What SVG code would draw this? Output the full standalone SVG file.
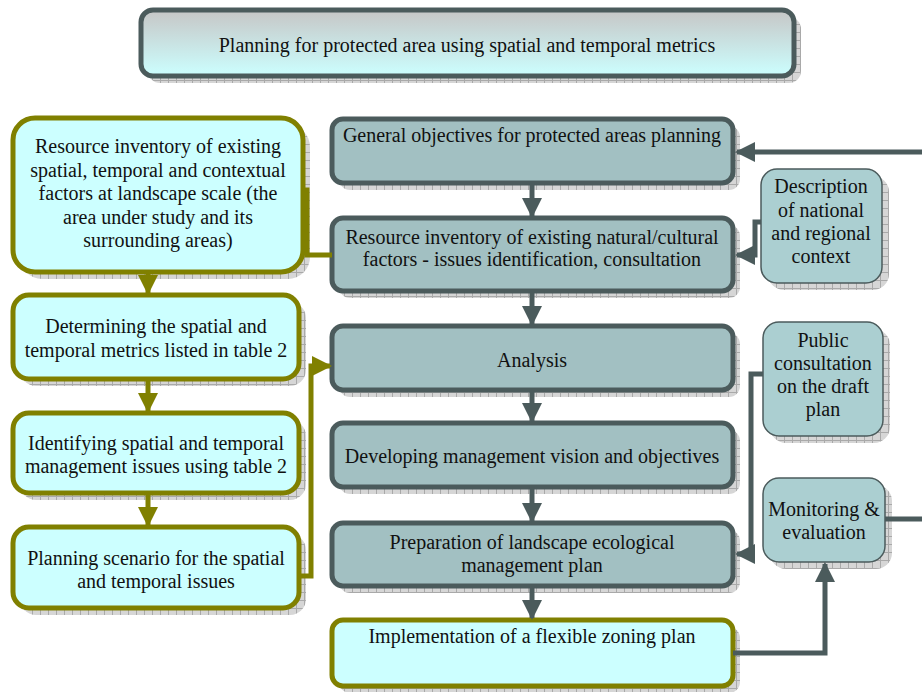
<svg xmlns="http://www.w3.org/2000/svg" width="922" height="692" viewBox="0 0 922 692" font-family="'Liberation Serif', 'Times New Roman', serif" font-size="20">
  <defs>
    <pattern id="grid" width="8" height="8" patternUnits="userSpaceOnUse">
      <rect width="8" height="8" fill="#d6d6d6"/>
      <path d="M0 0.5H8M0.5 0V8" stroke="#a9a9a9" stroke-width="1"/>
    </pattern>
    <linearGradient id="titleFill" x1="0" y1="0" x2="0" y2="1">
      <stop offset="0" stop-color="#c6c6c6"/>
      <stop offset="1" stop-color="#ccffff"/>
    </linearGradient>
    <marker id="arrSlate" viewBox="0 0 10 10" refX="9" refY="5" markerWidth="4" markerHeight="4" orient="auto" markerUnits="strokeWidth">
      <path d="M0 0L10 5L0 10Z" fill="#4b5b5c"/>
    </marker>
    <marker id="arrOlive" viewBox="0 0 10 10" refX="9" refY="5" markerWidth="4" markerHeight="4" orient="auto" markerUnits="strokeWidth">
      <path d="M0 0L10 5L0 10Z" fill="#808000"/>
    </marker>
  </defs>
  <style>
    .t { fill: #111; text-anchor: middle; }
    .shadow { fill: url(#grid); }
    .title { fill: url(#titleFill); stroke: #4b5b5c; stroke-width: 5; }
    .olive { fill: #ccffff; stroke: #808000; stroke-width: 5; }
    .slate { fill: #a2c0c2; stroke: #4b5b5c; stroke-width: 5; }
    .side { fill: #abcfd1; stroke: #4b5b5c; stroke-width: 1.5; }
    .cs { fill: none; stroke: #4b5b5c; stroke-width: 5; }
    .co { fill: none; stroke: #808000; stroke-width: 5; }
  </style>

  <!-- title -->
  <g id="title">
    <rect class="shadow" x="148" y="17" width="653" height="66" rx="12"/>
    <rect class="title" x="141" y="10" width="653" height="66" rx="12"/>
    <text class="t" x="467" y="52">Planning for protected area using spatial and temporal metrics</text>
  </g>

  <!-- left column -->
  <g id="inventory-landscape">
    <rect class="shadow" x="20" y="125" width="290" height="154" rx="22"/>
    <rect class="olive" x="13" y="118" width="290" height="154" rx="22"/>
    <text class="t" x="158" y="153">Resource inventory of existing</text>
    <text class="t" x="158" y="177">spatial, temporal and contextual</text>
    <text class="t" x="158" y="200">factors at landscape scale (the</text>
    <text class="t" x="158" y="224">area under study and its</text>
    <text class="t" x="158" y="247">surrounding areas)</text>
  </g>
  <g id="determining-metrics">
    <rect class="shadow" x="20" y="302" width="286" height="84" rx="16"/>
    <rect class="olive" x="13" y="295" width="286" height="84" rx="16"/>
    <text class="t" x="156" y="333">Determining the spatial and</text>
    <text class="t" x="156" y="357">temporal metrics listed in table 2</text>
  </g>
  <g id="identifying-issues">
    <rect class="shadow" x="20" y="420" width="286" height="80" rx="16"/>
    <rect class="olive" x="13" y="413" width="286" height="80" rx="16"/>
    <text class="t" x="156" y="450">Identifying spatial and temporal</text>
    <text class="t" x="156" y="473">management issues using table 2</text>
  </g>
  <g id="planning-scenario">
    <rect class="shadow" x="20" y="534" width="286" height="81" rx="16"/>
    <rect class="olive" x="13" y="527" width="286" height="81" rx="16"/>
    <text class="t" x="156" y="565">Planning scenario for the spatial</text>
    <text class="t" x="156" y="588">and temporal issues</text>
  </g>

  <!-- middle column -->
  <g id="general-objectives">
    <rect class="shadow" x="339" y="126" width="401" height="64" rx="11"/>
    <rect class="slate" x="332" y="119" width="401" height="64" rx="11"/>
    <text class="t" x="532" y="142">General objectives for protected areas planning</text>
  </g>
  <g id="inventory-natural">
    <rect class="shadow" x="339" y="225" width="401" height="73" rx="11"/>
    <rect class="slate" x="332" y="218" width="401" height="73" rx="11"/>
    <text class="t" x="532" y="244">Resource inventory of existing natural/cultural</text>
    <text class="t" x="532" y="266">factors - issues identification, consultation</text>
  </g>
  <g id="analysis">
    <rect class="shadow" x="339" y="333" width="401" height="64" rx="11"/>
    <rect class="slate" x="332" y="326" width="401" height="64" rx="11"/>
    <text class="t" x="532" y="367">Analysis</text>
  </g>
  <g id="vision">
    <rect class="shadow" x="339" y="430" width="401" height="64" rx="11"/>
    <rect class="slate" x="332" y="423" width="401" height="64" rx="11"/>
    <text class="t" x="532" y="463">Developing management vision and objectives</text>
  </g>
  <g id="management-plan">
    <rect class="shadow" x="339" y="530" width="401" height="63" rx="11"/>
    <rect class="slate" x="332" y="523" width="401" height="63" rx="11"/>
    <text class="t" x="532" y="549">Preparation of landscape ecological</text>
    <text class="t" x="532" y="572">management plan</text>
  </g>
  <g id="zoning-plan">
    <rect class="shadow" x="339" y="627" width="401" height="66" rx="11"/>
    <rect class="olive" x="332" y="620" width="401" height="66" rx="11"/>
    <text class="t" x="532" y="643">Implementation of a flexible zoning plan</text>
  </g>

  <!-- right column -->
  <g id="national-context">
    <rect class="shadow" x="768" y="176" width="121" height="114" rx="16"/>
    <rect class="side" x="761" y="169" width="121" height="114" rx="16"/>
    <text class="t" x="821" y="193">Description</text>
    <text class="t" x="821" y="217">of national</text>
    <text class="t" x="821" y="240">and regional</text>
    <text class="t" x="821" y="263">context</text>
  </g>
  <g id="public-consultation">
    <rect class="shadow" x="770" y="329" width="120" height="114" rx="16"/>
    <rect class="side" x="763" y="322" width="120" height="114" rx="16"/>
    <text class="t" x="823" y="347">Public</text>
    <text class="t" x="823" y="370">consultation</text>
    <text class="t" x="823" y="393">on the draft</text>
    <text class="t" x="823" y="416">plan</text>
  </g>
  <g id="monitoring">
    <rect class="shadow" x="770" y="485" width="122" height="84" rx="16"/>
    <rect class="side" x="763" y="478" width="122" height="84" rx="16"/>
    <text class="t" x="824" y="516">Monitoring &amp;</text>
    <text class="t" x="824" y="539">evaluation</text>
  </g>

  <!-- connectors -->
  <g id="connectors">
    <path class="co" d="M148 272V293" marker-end="url(#arrOlive)"/>
    <path class="co" d="M148 379V411" marker-end="url(#arrOlive)"/>
    <path class="co" d="M148 493V525" marker-end="url(#arrOlive)"/>
    <path class="co" d="M301 190H307V255H332"/>
    <path class="co" d="M301 576H311V366H330" marker-end="url(#arrOlive)"/>

    <path class="cs" d="M532 183V216" marker-end="url(#arrSlate)"/>
    <path class="cs" d="M532 291V324" marker-end="url(#arrSlate)"/>
    <path class="cs" d="M532 390V421" marker-end="url(#arrSlate)"/>
    <path class="cs" d="M532 487V521" marker-end="url(#arrSlate)"/>
    <path class="cs" d="M532 586V618" marker-end="url(#arrSlate)"/>

    <path class="cs" d="M922 152H737" marker-end="url(#arrSlate)"/>
    <path class="cs" d="M761 222H755V255H737" marker-end="url(#arrSlate)"/>
    <path class="cs" d="M763 374H751V554H737" marker-end="url(#arrSlate)"/>
    <path class="cs" d="M885 519H922"/>
    <path class="cs" d="M733 653H825V564" marker-end="url(#arrSlate)"/>
  </g>
</svg>
